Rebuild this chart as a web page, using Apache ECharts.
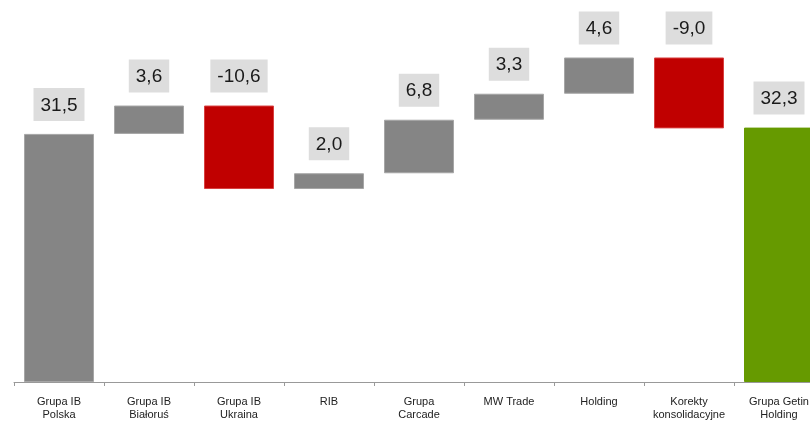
<!DOCTYPE html>
<html>
<head>
<meta charset="utf-8">
<script src="https://cdn.jsdelivr.net/npm/echarts@6/dist/echarts.min.js"></script>
<style>
html,body{margin:0;padding:0;background:#fff;overflow:hidden;width:810px;height:421px;}
#c{width:824px;height:421px;}
</style>
</head>
<body>
<div id="c"></div>
<script>
const categories = ['Grupa IB\nPolska','Grupa IB\nBiałoruś','Grupa IB\nUkraina','RIB','Grupa\nCarcade','MW Trade','Holding','Korekty\nkonsolidacyjne','Grupa Getin\nHolding'];
const values = [31.5, 3.6, -10.6, 2.0, 6.8, 3.3, 4.6, -9.0, 32.3];
const kinds = ['start','delta','delta','delta','delta','delta','delta','delta','end'];

const COLORS = {start:'#858585', up:'#858585', down:'#c00000', end:'#669a00'};
const BORDERS = {start:'#a6a6a6', up:'#a6a6a6', down:'#d84040', end:'#669a00'};

const base = [], visible = [];
let running = 0;
values.forEach((v, i) => {
  const k = kinds[i];
  let type;
  if (k === 'start' || k === 'end') {
    base.push(0); visible.push(v); running = v; type = k;
  } else if (v >= 0) {
    base.push(running); visible.push(v); running += v; type = 'up';
  } else {
    base.push(running + v); visible.push(-v); running += v; type = 'down';
  }
  visible[i] = {value: visible[i], itemStyle: {color: COLORS[type], borderColor: BORDERS[type], borderWidth: 1}};
});

const chart = echarts.init(document.getElementById('c'), null, {renderer:'canvas'});
chart.setOption({
  animation: false,
  grid: {left: 14, right: 0, top: 0, bottom: 39, containLabel: false},
  xAxis: {
    type: 'category',
    data: categories,
    boundaryGap: true,
    axisLine: {lineStyle: {color: '#999999', width: 1}},
    axisTick: {show: true, length: 4, lineStyle: {color: '#999999'}},
    axisLabel: {
      interval: 0, margin: 13, fontFamily: 'Liberation Sans', fontSize: 11,
      color: '#222222', lineHeight: 13
    }
  },
  yAxis: {type: 'value', min: 0, max: 48.5, show: false, splitLine: {show: false}},
  series: [
    {type: 'bar', stack: 'w', data: base, barWidth: 70, itemStyle: {color: 'transparent'}, silent: true},
    {type: 'bar', stack: 'w', data: visible, barWidth: 70,
      label: {
        show: true, position: 'top', distance: 13,
        formatter: p => values[p.dataIndex].toFixed(1).replace('.', ','),
        backgroundColor: '#dddddd', padding: [8, 7, 6, 7],
        fontFamily: 'Liberation Sans', fontSize: 19, color: '#1a1a1a'
      }
    }
  ]
});
</script>
</body>
</html>
